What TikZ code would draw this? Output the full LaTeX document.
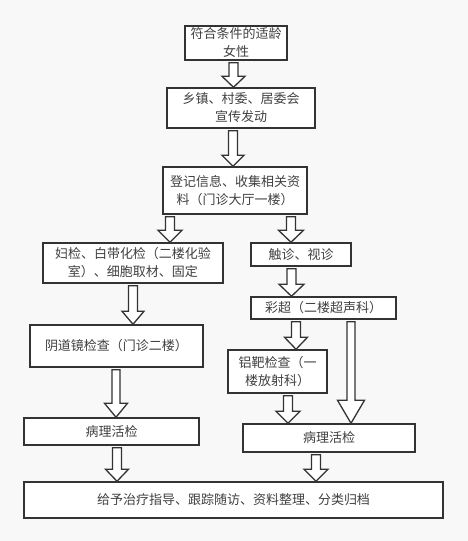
\documentclass[tikz,border=0pt]{standalone}
\usepackage{fontspec}
\setmainfont{Noto Sans CJK SC}
\usetikzlibrary{calc}
\definecolor{bg}{HTML}{F8F8F8}
\definecolor{linec}{HTML}{333333}
\definecolor{textc}{HTML}{404040}
\begin{document}
\begin{tikzpicture}[x=1pt,y=-1pt,
  box/.style={draw=linec, fill=white, line width=1.5pt, inner sep=0pt, align=center,
    text=textc, font=\fontsize{13}{18}\selectfont},
  hw/.store in=\hw, hl/.store in=\hl, sw/.store in=\sw,
  hw=23pt, hl=11pt, sw=9pt,
  blockarrow/.style={draw=linec, fill=white, line width=1.3pt, line join=miter,
    to path={let \p1=(\tikztostart), \p2=(\tikztotarget) in
      (\x1-0.5*\sw,\y1-2pt) -- (\x1-0.5*\sw,\y2+\hl) -- (\x1-0.5*\hw,\y2+\hl) --
      (\x1,\y2) -- (\x1+0.5*\hw,\y2+\hl) -- (\x1+0.5*\sw,\y2+\hl) --
      (\x1+0.5*\sw,\y1-2pt) -- cycle}}]
\fill[bg] (0,0) rectangle (468,541);
\useasboundingbox (0,0) rectangle (468,541);

\node[box, minimum width=102pt, minimum height=34pt] (b1) at (236,43) {符合条件的适龄\\女性};
\node[box, minimum width=148pt, minimum height=40pt] (b2) at (241,108) {乡镇、村委、居委会\\宣传发动};
\node[box, minimum width=144pt, minimum height=47pt] (b3) at (235,190.5) {登记信息、收集相关资\\料（门诊大厅一楼）};
\node[box, minimum width=180pt, minimum height=40pt] (b4) at (133,263) {妇检、白带化检（二楼化验\\室）、细胞取材、固定};
\node[box, minimum width=100pt, minimum height=23pt] (b5) at (301,254.5) {触诊、视诊};
\node[box, minimum width=145pt, minimum height=22pt] (b6) at (323.5,308) {彩超（二楼超声科）};
\node[box, minimum width=99pt, minimum height=43pt] (b7) at (277.5,371.5) {铝靶检查（一\\楼放射科）};
\node[box, minimum width=173pt, minimum height=42pt] (b8) at (116.5,346) {阴道镜检查（门诊二楼）};
\node[box, minimum width=175pt, minimum height=27pt] (b9) at (111.5,431.5) {病理活检};
\node[box, minimum width=172pt, minimum height=28pt] (b10) at (329,438) {病理活检};
\node[box, minimum width=419pt, minimum height=36pt] (b11) at (233.5,500) {给予治疗指导、跟踪随访、资料整理、分类归档};

\draw[blockarrow] ([xshift=-2.5pt]b1.south) to (b2.north);
\draw[blockarrow, hw=22pt] ([xshift=-8pt]b2.south) to (b3.north);
\draw[blockarrow, hw=24pt, hl=12pt] ([xshift=-65pt]b3.south) to (b4.north);
\draw[blockarrow, hw=25pt, hl=12pt] ([xshift=56pt]b3.south) to (b5.north);
\draw[blockarrow, hw=25pt, hl=12pt] ([xshift=-9.5pt]b5.south) to (b6.north);
\draw[blockarrow, hw=23pt, hl=12pt] ([xshift=-27.5pt]b6.south) to (b7.north);
\draw[blockarrow, hw=27pt, hl=23pt, sw=8pt] ([xshift=27.5pt]b6.south) to (b10.north);
\draw[blockarrow, hw=24pt, hl=12pt] ([xshift=10.5pt]b7.south) to (b10.north);
\draw[blockarrow, hw=22pt, hl=13pt] (b4.south) to (b8.north);
\draw[blockarrow, hw=23pt, hl=14pt, sw=8pt] ([xshift=-0.5pt]b8.south) to (b9.north);
\draw[blockarrow, hw=23pt, hl=12pt] ([xshift=5.5pt]b9.south) to (b11.north);
\draw[blockarrow, hw=24pt, hl=12pt] ([xshift=-13pt]b10.south) to (b11.north);
\end{tikzpicture}
\end{document}
